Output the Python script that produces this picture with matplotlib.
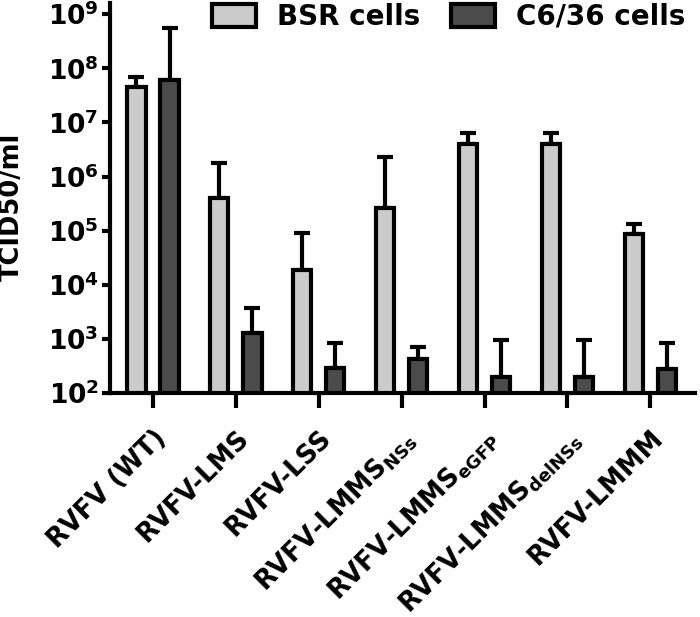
import numpy as np
import matplotlib
matplotlib.use('Agg')
import matplotlib.pyplot as mplt
from matplotlib.patches import Patch
from matplotlib.ticker import NullLocator, FixedLocator

mplt.rcParams['font.family'] = 'DejaVu Sans'
mplt.rcParams['font.weight'] = 'bold'
mplt.rcParams['axes.labelweight'] = 'bold'
mplt.rcParams['mathtext.fontset'] = 'custom'
mplt.rcParams['mathtext.rm'] = 'DejaVu Sans:bold'
mplt.rcParams['mathtext.bf'] = 'DejaVu Sans:bold'
mplt.rcParams['mathtext.it'] = 'DejaVu Sans:bold'
mplt.rcParams['mathtext.default'] = 'regular'

# data
strains = ['RVFV (WT)', 'RVFV-LMS', 'RVFV-LSS',
           r'RVFV-LMMS$_{\mathregular{NSs}}$',
           r'RVFV-LMMS$_{\mathregular{eGFP}}$',
           r'RVFV-LMMS$_{\mathregular{delNSs}}$',
           'RVFV-LMMM']
bsr = [4.5e7, 4.0e5, 1.9e4, 2.6e5, 4.0e6, 4.0e6, 8.5e4]
bsr_upper = [7.0e7, 1.8e6, 9.0e4, 2.3e6, 6.5e6, 6.5e6, 1.3e5]
c636 = [6.0e7, 1.3e3, 290, 420, 195, 195, 280]
c636_upper = [5.5e8, 3.8e3, 830, 700, 950, 950, 830]
series_names = ['BSR cells', 'C6/36 cells']
colors = ['#cbcbcb', '#4b4b4b']

x = np.arange(len(strains))
w = 0.22
off = 0.2

fig = mplt.figure(figsize=(7, 6.17), dpi=100)
ax = fig.add_axes([0.157, 0.363, 0.836, 0.632])

for vals, upper, sign, col in [(bsr, bsr_upper, -1, colors[0]), (c636, c636_upper, 1, colors[1])]:
    vals = np.array(vals)
    upper = np.array(upper)
    ax.errorbar(x + sign * off, vals, yerr=[np.zeros_like(vals), upper - vals],
                fmt='none', ecolor='black', elinewidth=3, capsize=5.5, capthick=3, zorder=1)
    ax.bar(x + sign * off, vals, width=w, color=col, edgecolor='black', linewidth=3,
           bottom=0, zorder=2)

ax.set_yscale('log')
ax.set_ylim(1e2, 1.6e9)
ax.set_xlim(-0.52, 6.54)
ax.yaxis.set_major_locator(FixedLocator([1e2, 1e3, 1e4, 1e5, 1e6, 1e7, 1e8, 1e9]))
ax.yaxis.set_minor_locator(NullLocator())
ax.set_xticks(x)
ax.set_xticklabels(strains, rotation=45, ha='right', rotation_mode='anchor', fontsize=18.5)
ax.tick_params(axis='y', labelsize=19, length=6, width=3, pad=2)
ax.tick_params(axis='x', length=11, width=3, pad=12)

for s in ['top', 'right']:
    ax.spines[s].set_visible(False)
for s in ['left', 'bottom']:
    ax.spines[s].set_linewidth(3)

ax.set_ylabel('TCID50/ml', fontsize=18.5)
ax.yaxis.set_label_coords(-0.145, 0.477)

handles = [Patch(facecolor=colors[i], edgecolor='black', linewidth=3, label=series_names[i]) for i in range(2)]
fig.legend(handles=handles, loc='upper right', bbox_to_anchor=(1.015, 1.036), ncol=2, frameon=False,
           fontsize=20, handlelength=1.6, handleheight=0.9, handletextpad=0.75, columnspacing=1.1)

fig.savefig('out.png', dpi=100)
